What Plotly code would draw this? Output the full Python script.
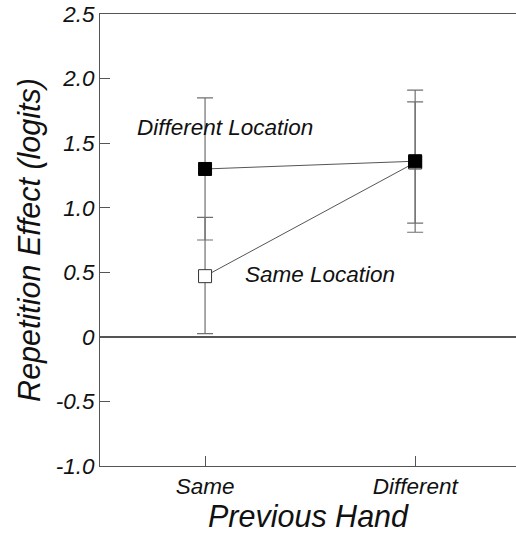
import plotly.graph_objects as go

categories = ["Same", "Different"]
diff_loc = [1.30, 1.36]
diff_loc_err = [0.55, 0.55]
same_loc = [0.47, 1.35]
same_loc_err_plus = [0.455, 0.47]
same_loc_err_minus = [0.445, 0.47]
ytick_vals = [-1.0, -0.5, 0, 0.5, 1.0, 1.5, 2.0, 2.5]
ytick_text = ["-1.0", "-0.5", "0", "0.5", "1.0", "1.5", "2.0", "2.5"]

xpos = list(range(len(categories)))
FONT = "Liberation Sans, Arial, Helvetica, sans-serif"
LINE = "#555555"
ERR = "#707070"
TXT = "#111111"

fig = go.Figure()
fig.add_trace(go.Scatter(
    x=xpos, y=same_loc, mode="lines+markers",
    line=dict(color=LINE, width=1),
    marker=dict(symbol="square", size=13, color="white", line=dict(color="#333333", width=1)),
    error_y=dict(type="data", symmetric=False, array=same_loc_err_plus, arrayminus=same_loc_err_minus,
                 color=ERR, thickness=1.2, width=8),
    showlegend=False))
fig.add_trace(go.Scatter(
    x=xpos, y=diff_loc, mode="lines+markers",
    line=dict(color=LINE, width=1),
    marker=dict(symbol="square", size=13, color="black", line=dict(color="black", width=1)),
    error_y=dict(type="data", array=diff_loc_err, color=ERR, thickness=1.2, width=8),
    showlegend=False))

fig.add_annotation(x=0.095, y=1.62, text="Different Location", showarrow=False,
                   font=dict(family=FONT, size=22.5, style="italic", color=TXT))
fig.add_annotation(x=0.548, y=0.48, text="Same Location", showarrow=False,
                   font=dict(family=FONT, size=22.5, style="italic", color=TXT))

fig.update_layout(
    width=516, height=533,
    margin=dict(l=100, r=0, t=14, b=67),
    plot_bgcolor="white", paper_bgcolor="white",
    font=dict(family=FONT, color=TXT),
    xaxis=dict(
        range=[-0.5, 1.48], tickvals=xpos, ticktext=categories,
        showgrid=False, zeroline=False, showline=True, mirror=True,
        linecolor=LINE, linewidth=1, ticks="inside", ticklen=10, tickcolor=LINE,
        tickfont=dict(family=FONT, size=22.5, style="italic", color=TXT),
        title=dict(text="Previous Hand", font=dict(family=FONT, size=30.5, style="italic", color=TXT), standoff=6),
    ),
    yaxis=dict(
        range=[-1.0, 2.5], tickvals=ytick_vals, ticktext=ytick_text,
        showgrid=False, zeroline=True, zerolinecolor=LINE, zerolinewidth=1.5,
        showline=True, mirror=False, linecolor=LINE, linewidth=1,
        ticks="inside", ticklen=10, tickcolor=LINE,
        tickfont=dict(family=FONT, size=22.5, style="italic", color=TXT),
        title=dict(text="Repetition Effect (logits)", font=dict(family=FONT, size=30.5, style="italic", color=TXT), standoff=6),
    ),
)

fig.write_html("out.html")
